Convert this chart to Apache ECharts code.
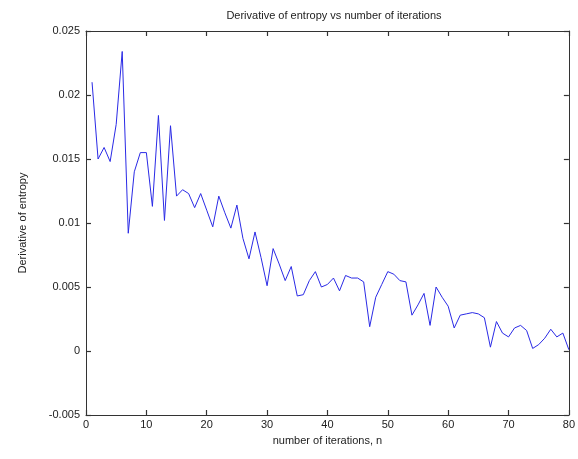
<!DOCTYPE html>
<html>
<head>
<meta charset="utf-8">
<script src="https://cdn.jsdelivr.net/npm/echarts@6/dist/echarts.min.js"></script>
<style>html,body{margin:0;padding:0;background:#fff;}#c{width:578px;height:459px;}</style>
</head>
<body>
<div id="c"></div>
<script>
const iterations = [1,2,3,4,5,6,7,8,9,10,11,12,13,14,15,16,17,18,19,20,21,22,23,24,25,26,27,28,29,30,31,32,33,34,35,36,37,38,39,40,41,42,43,44,45,46,47,48,49,50,51,52,53,54,55,56,57,58,59,60,61,62,63,64,65,66,67,68,69,70,71,72,73,74,75,76,77,78,79,80];
const dEntropy = [0.0210,0.0150,0.0159,0.0148,0.0177,0.0234,0.0092,0.0140,0.0155,0.0155,
0.0113,0.0184,0.0102,0.0176,0.0121,0.0126,0.0123,0.0112,0.0123,0.0110,
0.0097,0.0121,0.0108,0.0096,0.0114,0.0088,0.0072,0.0093,0.0073,0.0051,
0.0080,0.0068,0.0055,0.0066,0.0043,0.0044,0.0055,0.0062,0.0050,0.0052,
0.0057,0.0047,0.0059,0.0057,0.0057,0.0054,0.0019,0.0042,0.0052,0.0062,
0.0060,0.0055,0.0054,0.0028,0.0036,0.0045,0.0020,0.0050,0.0042,0.0035,
0.0018,0.0028,0.0029,0.0030,0.0029,0.0026,0.0003,0.0023,0.0014,0.0011,
0.0018,0.0020,0.0016,0.0002,0.0005,0.0010,0.0017,0.0011,0.0014,0.0001];
const xTicks = [0,10,20,30,40,50,60,70,80];
const yTicks = [-0.005,0,0.005,0.01,0.015,0.02,0.025];
const titleText = 'Derivative of entropy vs number of iterations';
const xLabel = 'number of iterations, n';
const yLabel = 'Derivative of entropy';

const chart = echarts.init(document.getElementById('c'));
const font = 'Liberation Sans, Arial, sans-serif';
function axisCommon() {
  return {
    axisLine: {show: true, onZero: false, lineStyle: {color: '#333', width: 1}},
    axisTick: {show: true, inside: true, length: 5, lineStyle: {color: '#333', width: 1.2}},
    splitLine: {show: false}
  };
}
chart.setOption({
  animation: false,
  backgroundColor: '#fff',
  title: {text: titleText, left: 329, top: 5, textAlign: 'center',
    textStyle: {fontFamily: font, fontSize: 11, fontWeight: 'normal', color: '#222'}},
  grid: {left: 86, right: 6, top: 31, bottom: 44},
  xAxis: [
    Object.assign({type: 'value', position: 'bottom', min: xTicks[0], max: xTicks[xTicks.length-1], interval: 10,
      name: xLabel, nameLocation: 'middle', nameGap: 20,
      nameTextStyle: {fontFamily: font, fontSize: 11, color: '#222'},
      axisLabel: {show: true, fontFamily: font, fontSize: 11, color: '#222', margin: 4}}, axisCommon()),
    Object.assign({type: 'value', position: 'top', min: xTicks[0], max: xTicks[xTicks.length-1], interval: 10,
      axisLabel: {show: false}}, axisCommon())
  ],
  yAxis: [
    Object.assign({type: 'value', position: 'left', min: yTicks[0], max: yTicks[yTicks.length-1], interval: 0.005,
      name: yLabel, nameLocation: 'middle', nameGap: 58, nameRotate: 90,
      nameTextStyle: {fontFamily: font, fontSize: 11, color: '#222'},
      axisLabel: {show: true, fontFamily: font, fontSize: 11, color: '#222', margin: 6,
        formatter: v => String(+v.toFixed(3))}}, axisCommon()),
    Object.assign({type: 'value', position: 'right', min: yTicks[0], max: yTicks[yTicks.length-1], interval: 0.005,
      axisLabel: {show: false}}, axisCommon())
  ],
  series: [{
    type: 'line',
    data: iterations.map((n, i) => [n, dEntropy[i]]),
    showSymbol: false,
    symbol: 'none',
    lineStyle: {color: '#2a2ae6', width: 1},
    xAxisIndex: 0, yAxisIndex: 0
  }]
});
</script>
</body>
</html>
